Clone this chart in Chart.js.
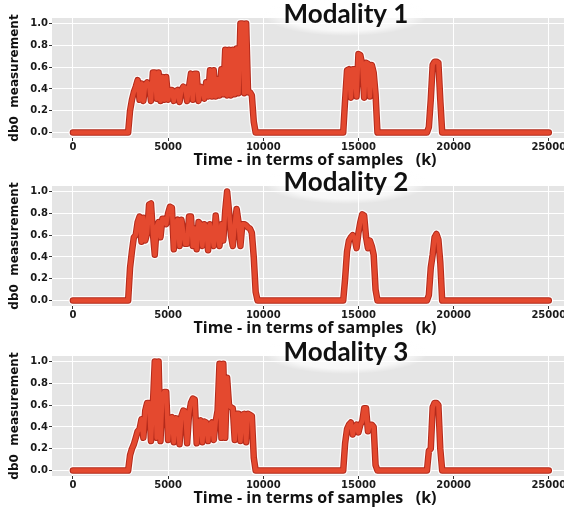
<!DOCTYPE html>
<html><head><meta charset="utf-8">
<script src="https://cdn.jsdelivr.net/npm/chart.js@4.4.0/dist/chart.umd.min.js"></script>
<style>
html,body{margin:0;padding:0;background:#fff;width:564px;height:512px;overflow:hidden;position:relative;}
canvas{position:absolute;left:0;}
</style></head><body>
<canvas id="c1" width="564" height="170" style="top:0px"></canvas>
<canvas id="c2" width="564" height="170" style="top:168px"></canvas>
<canvas id="c3" width="564" height="170" style="top:338px"></canvas>
<script>
// sample positions (shared x grid)
const samples = [0,
  2800,2900,
  3000,3100,3200,3300,3400,3500,3600,3700,3800,3900,
  4000,4100,4200,4300,4400,4500,4600,4700,4800,4900,
  5000,5100,5200,5300,5400,5500,5600,5700,5800,5900,
  6000,6100,6200,6300,6400,6500,6600,6700,6800,6900,
  7000,7100,7200,7300,7400,7500,7600,7700,7800,7900,
  8000,8100,8200,8300,8400,8500,8600,8700,8800,8900,
  9000,9100,9200,9300,9400,9500,9600,9700,9800,
  14100,14200,14300,14400,14500,14600,14700,14800,14900,15000,15100,
  15200,15300,15400,15500,15600,15700,15800,15900,16000,16100,16200,
  18500,18600,18700,18800,18900,19000,19100,19200,19300,19400,19500,19600,19700,
  25000];

const modality1 = [0,
  0,0,
  0.20,0.30,0.37,0.42,0.48,0.30,0.45,0.29,0.44,0.46,
  0.44,0.29,0.55,0.55,0.31,0.55,0.29,0.51,0.30,0.51,
  0.30,0.39,0.39,0.29,0.38,0.39,0.28,0.39,0.42,0.41,
  0.29,0.42,0.54,0.30,0.54,0.54,0.29,0.42,0.41,0.31,
  0.46,0.33,0.57,0.33,0.57,0.33,0.49,0.34,0.58,0.35,
  0.76,0.34,0.76,0.34,0.76,0.35,0.77,0.36,1.00,1.00,
  0.36,1.00,0.37,0.37,0.34,0.10,0,0,0,
  0,0,0.30,0.57,0.58,0.32,0.58,0.58,0.33,0.72,0.71,
  0.62,0.32,0.64,0.63,0.33,0.62,0.55,0.35,0,0,0,
  0,0,0.05,0.30,0.62,0.65,0.65,0.64,0.30,0,0,0,0,
  0];

const modality2 = [0,
  0,0,
  0.30,0.45,0.58,0.60,0.72,0.77,0.54,0.76,0.55,0.62,
  0.88,0.89,0.62,0.42,0.68,0.72,0.58,0.75,0.75,0.70,
  0.80,0.86,0.85,0.47,0.72,0.74,0.50,0.74,0.62,0.52,
  0.52,0.77,0.77,0.50,0.66,0.47,0.72,0.70,0.50,0.70,
  0.68,0.46,0.70,0.62,0.50,0.78,0.60,0.50,0.70,0.55,
  0.82,1.00,0.82,0.60,0.50,0.70,0.84,0.72,0.50,0.70,
  0.70,0.69,0.67,0.66,0.62,0.40,0.08,0,0,
  0,0,0.20,0.45,0.55,0.58,0.60,0.57,0.48,0.62,0.72,
  0.79,0.78,0.58,0.48,0.55,0.50,0.42,0.10,0,0,0,
  0,0,0.05,0.30,0.42,0.58,0.61,0.56,0.35,0,0,0,0,
  0];

const modality3 = [0,
  0,0,
  0.14,0.20,0.24,0.30,0.36,0.38,0.47,0.30,0.55,0.62,
  0.62,0.27,0.60,1.00,0.30,1.00,0.27,0.68,0.72,0.72,
  0.28,0.48,0.49,0.26,0.48,0.47,0.24,0.50,0.55,0.54,
  0.25,0.52,0.62,0.66,0.65,0.25,0.45,0.46,0.26,0.45,
  0.44,0.27,0.42,0.44,0.28,0.45,0.55,0.98,0.30,0.98,
  0.30,0.85,0.60,0.58,0.57,0.28,0.52,0.52,0.27,0.51,
  0.52,0.26,0.52,0.51,0.50,0.12,0,0,0,
  0,0,0.25,0.38,0.42,0.44,0.33,0.40,0.42,0.35,0.42,
  0.45,0.57,0.57,0.36,0.42,0.42,0.40,0.05,0,0,0,
  0,0,0.18,0.20,0.58,0.62,0.62,0.60,0.20,0,0,0,0,
  0];

const xTicks = [0,5000,10000,15000,20000,25000];
const yTicks = [0,0.2,0.4,0.6,0.8,1.0];
const panelTitles = ['Modality 1','Modality 2','Modality 3'];
const xTitle = 'Time - in terms of samples   (k)';
const yTitle = 'db0  measurement';

function decor(title){
  return {
    id:'decor',
    beforeDraw(chart){
      const {ctx, chartArea:a} = chart;
      ctx.save();
      ctx.fillStyle = '#e5e5e5';
      ctx.fillRect(a.left, a.top, a.right - a.left, a.bottom - a.top);
      ctx.restore();
    },
    beforeDatasetsDraw(chart){
      const {ctx} = chart;
      ctx.save();
      ctx.translate(346, 15);
      ctx.scale(1, 21/82);
      const g = ctx.createRadialGradient(0,0,0,0,0,82);
      g.addColorStop(0,'rgba(255,255,255,0.9)');
      g.addColorStop(0.75,'rgba(255,255,255,0.7)');
      g.addColorStop(1,'rgba(255,255,255,0)');
      ctx.fillStyle = g;
      ctx.beginPath();
      ctx.arc(0,0,82,0,Math.PI*2);
      ctx.fill();
      ctx.restore();
    },
    afterDraw(chart){
      const {ctx} = chart;
      ctx.save();
      ctx.font = 'bold 26px Lato';
      ctx.textAlign = 'center';
      ctx.textBaseline = 'alphabetic';
      ctx.fillStyle = '#111';
      ctx.fillText(title, 346, 23);
      ctx.font = 'bold 16px "Open Sans"';
      ctx.textBaseline = 'middle';
      ctx.fillText(xTitle, 315, 160);
      ctx.restore();
    }
  };
}

function makeChart(id, values, title){
  const pts = samples.map((s,i)=>({x:s, y:values[i]}));
  const base = {data:pts, pointRadius:0, tension:0, borderJoinStyle:'round', borderCapStyle:'round', fill:false};
  const tickFont = {family:'DejaVu Sans', weight:'bold', size:10};
  new Chart(document.getElementById(id), {
    type:'line',
    data:{datasets:[
      Object.assign({}, base, {borderColor:'#e4492f', borderWidth:4.5, order:1}),
      Object.assign({}, base, {borderColor:'#b32a1b', borderWidth:6.5, order:2}),
      Object.assign({}, base, {borderColor:'rgba(255,255,255,0.85)', borderWidth:9, order:3})
    ]},
    options:{
      responsive:false, animation:false, devicePixelRatio:1,
      layout:{padding:{top:18,left:0,right:0,bottom:0}},
      plugins:{legend:{display:false}, tooltip:{enabled:false}, title:{display:false}},
      scales:{
        x:{
          type:'linear', min:-1100, max:25800,
          afterFit(s){ s.height = 32; s.paddingLeft = 0; s.paddingRight = 0; },
          afterBuildTicks(s){ s.ticks = xTicks.map(v=>({value:v})); },
          ticks:{callback:v=>String(v), font:tickFont, color:'#1a1a1a', padding:0, maxRotation:0, autoSkip:false},
          grid:{color:'#ffffff', lineWidth:1, tickLength:3, tickColor:'#333', drawTicks:true},
          border:{display:false},
          title:{display:false, text:xTitle}
        },
        y:{
          min:-0.05, max:1.05,
          afterFit(s){ s.width = 52; s.paddingTop = 0; s.paddingBottom = 0; },
          afterBuildTicks(s){ s.ticks = yTicks.map(v=>({value:v})); },
          ticks:{callback:v=>Number(v).toFixed(1), font:tickFont, color:'#1a1a1a', padding:1},
          grid:{color:'#ffffff', lineWidth:1, tickLength:3, tickColor:'#333', drawTicks:true},
          border:{display:false},
          title:{display:true, text:yTitle, font:{family:'DejaVu Sans', weight:'bold', size:12}, color:'#111', padding:{top:8,bottom:0}}
        }
      }
    },
    plugins:[decor(title)]
  });
}

makeChart('c1', modality1, panelTitles[0]);
makeChart('c2', modality2, panelTitles[1]);
makeChart('c3', modality3, panelTitles[2]);
</script>
</body></html>
